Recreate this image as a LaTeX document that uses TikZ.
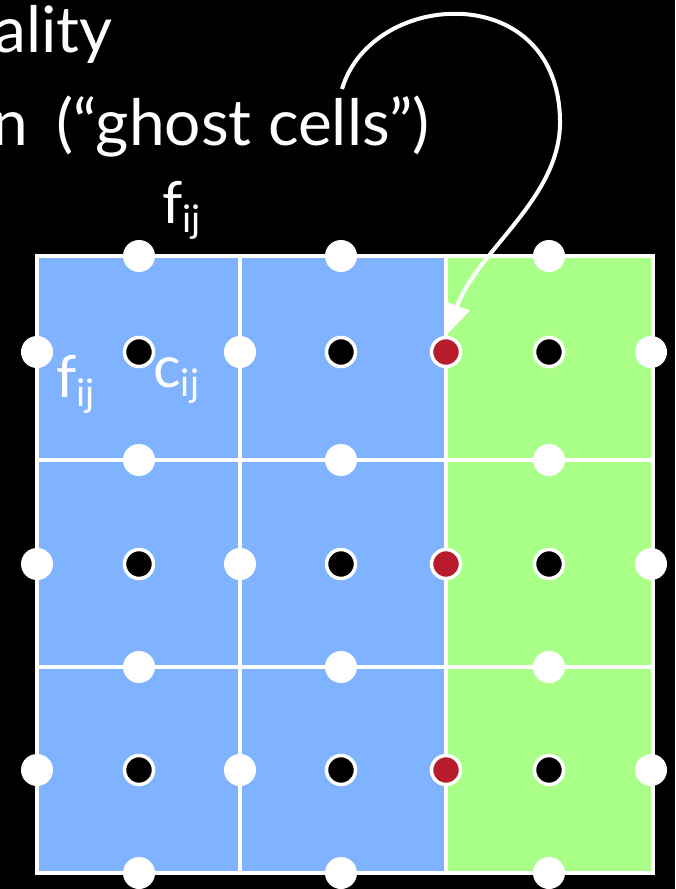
\documentclass[tikz,border=0pt]{standalone}
\usepackage{fontspec}
\setmainfont{Lato}
\usetikzlibrary{arrows.meta}
\definecolor{cellblue}{HTML}{80B3FF}
\definecolor{cellgreen}{HTML}{AAFF88}
\definecolor{ghostred}{HTML}{B81C2C}
\newcommand\lowsub[1]{\raisebox{-9pt}{\fontsize{38}{38}\selectfont #1}}
\begin{document}
\begin{tikzpicture}[x=1pt,y=-1pt,
  facedot/.style={circle,fill=white,minimum size=32pt,inner sep=0pt},
  centerdot/.style={circle,fill=black,draw=white,line width=3.5pt,minimum size=29pt,inner sep=0pt},
  ghostdot/.style={circle,fill=ghostred,draw=white,line width=3.5pt,minimum size=29pt,inner sep=0pt},
  gridline/.style={draw=white,line width=4pt},
  bigtext/.style={text=white,inner sep=0pt,font=\fontsize{64}{68}\selectfont},
  label/.style={text=white,inner sep=0pt,font=\fontsize{58}{60}\selectfont}]
\fill[black] (0,0) rectangle (675,889);
\useasboundingbox (0,0) rectangle (675,889);
\clip (0,0) rectangle (675,889);
% cells
\fill[cellblue] (37,256) rectangle (446,873);
\fill[cellgreen] (446,256) rectangle (653,873);
\draw[gridline] (37,256) rectangle (653,873);
\draw[gridline] (240,256) -- (240,873);
\draw[gridline] (446,256) -- (446,873);
\draw[gridline] (37,460) -- (653,460);
\draw[gridline] (37,667) -- (653,667);
% text
\node[bigtext,anchor=base east] (t1) at (113,52) {ality};
\node[bigtext,anchor=base east] (t2) at (430,145) {n\hspace{12pt} (“ghost cells”)};
% horizontal face dots
\foreach \x/\i in {139/1,341/2,549/3}{
  \foreach \y/\j in {256/1,460/2,667/3,873/4}{
    \node[facedot] (h\i\j) at (\x,\y) {};
  }
}
% vertical face dots and centres per row
\foreach \y/\j in {352/1,564/2,770/3}{
  \node[facedot] (v1\j) at (37,\y) {};
  \node[facedot] (v2\j) at (240,\y) {};
  \node[ghostdot] (r\j) at (446,\y) {};
  \node[facedot] (v4\j) at (651,\y) {};
  \node[centerdot] (c1\j) at (139,\y) {};
  \node[centerdot] (c2\j) at (341,\y) {};
  \node[centerdot] (c3\j) at (549,\y) {};
}
% labels
\node[label,anchor=base west] (ftop) at (162,223) {f\lowsub{ij}};
\node[label,anchor=base west] (fleft) at (56,397) {f\lowsub{ij}};
\node[label,anchor=base west] (cl) at (153,387) {c\lowsub{ij}};
% arrow
\coordinate (astart) at (342,89);
\draw[white,line width=4pt,-{Triangle[length=32pt,width=26pt]}]
  (astart) .. controls (372,-12) and (562,-22) .. (560,125)
  .. controls (558,200) and (478,250) .. (r1.north);
\end{tikzpicture}
\end{document}
